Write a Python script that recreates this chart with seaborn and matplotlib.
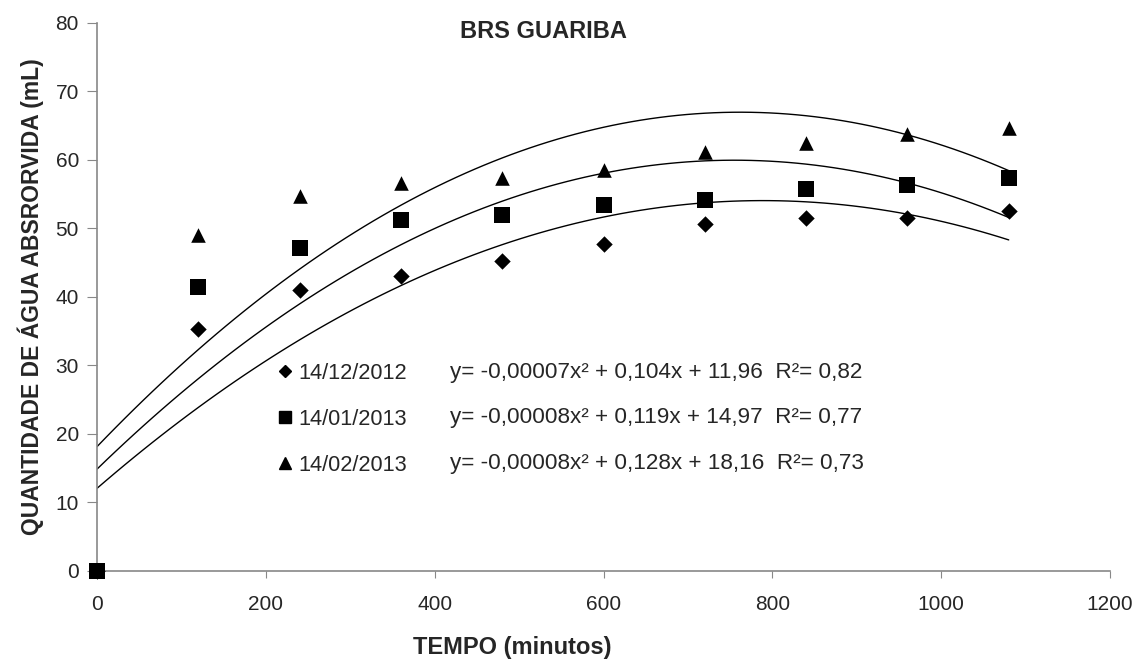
import numpy as np
import pandas as pd
import matplotlib
matplotlib.use("Agg")
import matplotlib.pyplot as plt
import seaborn as sns
from matplotlib.lines import Line2D

tempo = [0, 120, 240, 360, 480, 600, 720, 840, 960, 1080]
s_dez = [0, 35.3, 41.0, 43.0, 45.3, 47.8, 50.7, 51.5, 51.5, 52.6]
s_jan = [0, 41.5, 47.2, 51.3, 52.0, 53.4, 54.2, 55.7, 56.4, 57.4]
s_fev = [0, 49.1, 54.7, 56.6, 57.4, 58.5, 61.1, 62.5, 63.8, 64.7]
series_labels = ["14/12/2012", "14/01/2013", "14/02/2013"]
equations = ["y= -0,00007x\u00b2 + 0,104x + 11,96  R\u00b2= 0,82",
             "y= -0,00008x\u00b2 + 0,119x + 14,97  R\u00b2= 0,77",
             "y= -0,00008x\u00b2 + 0,128x + 18,16  R\u00b2= 0,73"]
x_ticks = [0, 200, 400, 600, 800, 1000, 1200]
y_ticks = [0, 10, 20, 30, 40, 50, 60, 70, 80]

sns.set_style("white")
plt.rcParams['font.family'] = ['Liberation Sans', 'DejaVu Sans']

df = pd.DataFrame({
    "tempo": tempo * 3,
    "agua": s_dez + s_jan + s_fev,
    "data": sum([[l] * len(tempo) for l in series_labels], []),
})

fig = plt.figure(figsize=(11.4, 6.62), dpi=100)
ax = fig.add_axes([0.0851, 0.1375, 0.9737 - 0.0851, 0.9653 - 0.1375])

markers = {"14/12/2012": "D", "14/01/2013": "s", "14/02/2013": "^"}
sizes = {"14/12/2012": 70, "14/01/2013": 120, "14/02/2013": 110}

for lab in series_labels:
    sub = df[df["data"] == lab]
    sns.regplot(data=sub, x="tempo", y="agua", order=2, ci=None, scatter=False,
                ax=ax, line_kws=dict(color="black", lw=1.0))
    sns.scatterplot(data=sub, x="tempo", y="agua", marker=markers[lab],
                    s=sizes[lab], color="black", edgecolor="black", linewidth=0, ax=ax,
                    zorder=3, clip_on=False)

ax.set_xlim(0, 1200)
ax.set_ylim(0, 80)
ax.set_xticks(x_ticks)
ax.set_yticks(y_ticks)
ax.tick_params(axis="both", labelsize=15, color="#888888", direction="out",
               bottom=True, left=True)
ax.tick_params(axis="y", length=7, pad=6)
ax.tick_params(axis="x", length=5, pad=12)
for sp in ["top", "right"]:
    ax.spines[sp].set_visible(False)
for sp in ["left", "bottom"]:
    ax.spines[sp].set_color("#888888")
    ax.spines[sp].set_linewidth(1.2)

ax.set_xlabel("TEMPO (minutos)", fontsize=17, fontweight="bold", va="center")
ax.xaxis.set_label_coords(0.41, -0.139)
ax.set_ylabel("QUANTIDADE DE ÁGUA ABSRORVIDA (mL)", fontsize=16.5, fontweight="bold", labelpad=8)
ax.text(0.441, 0.985, "BRS GUARIBA", transform=ax.transAxes, fontsize=17,
        fontweight="bold", ha="center", va="center")

handles = [Line2D([], [], ls="none", marker=markers[l], color="black",
                  markersize={"D": 6, "s": 9, "^": 8}[markers[l]]) for l in series_labels]
leg = ax.legend(handles, series_labels, loc="upper left", bbox_to_anchor=(0.164, 0.40),
                frameon=False, fontsize=15.7, labelspacing=1.15, handletextpad=0.1,
                handlelength=1.0, borderpad=0)

for i, eq in enumerate(equations):
    ax.text(0.348, 0.363 - i * 0.0835, eq, transform=ax.transAxes, fontsize=16.2,
            ha="left", va="center")

fig.savefig("out.png", dpi=100)
